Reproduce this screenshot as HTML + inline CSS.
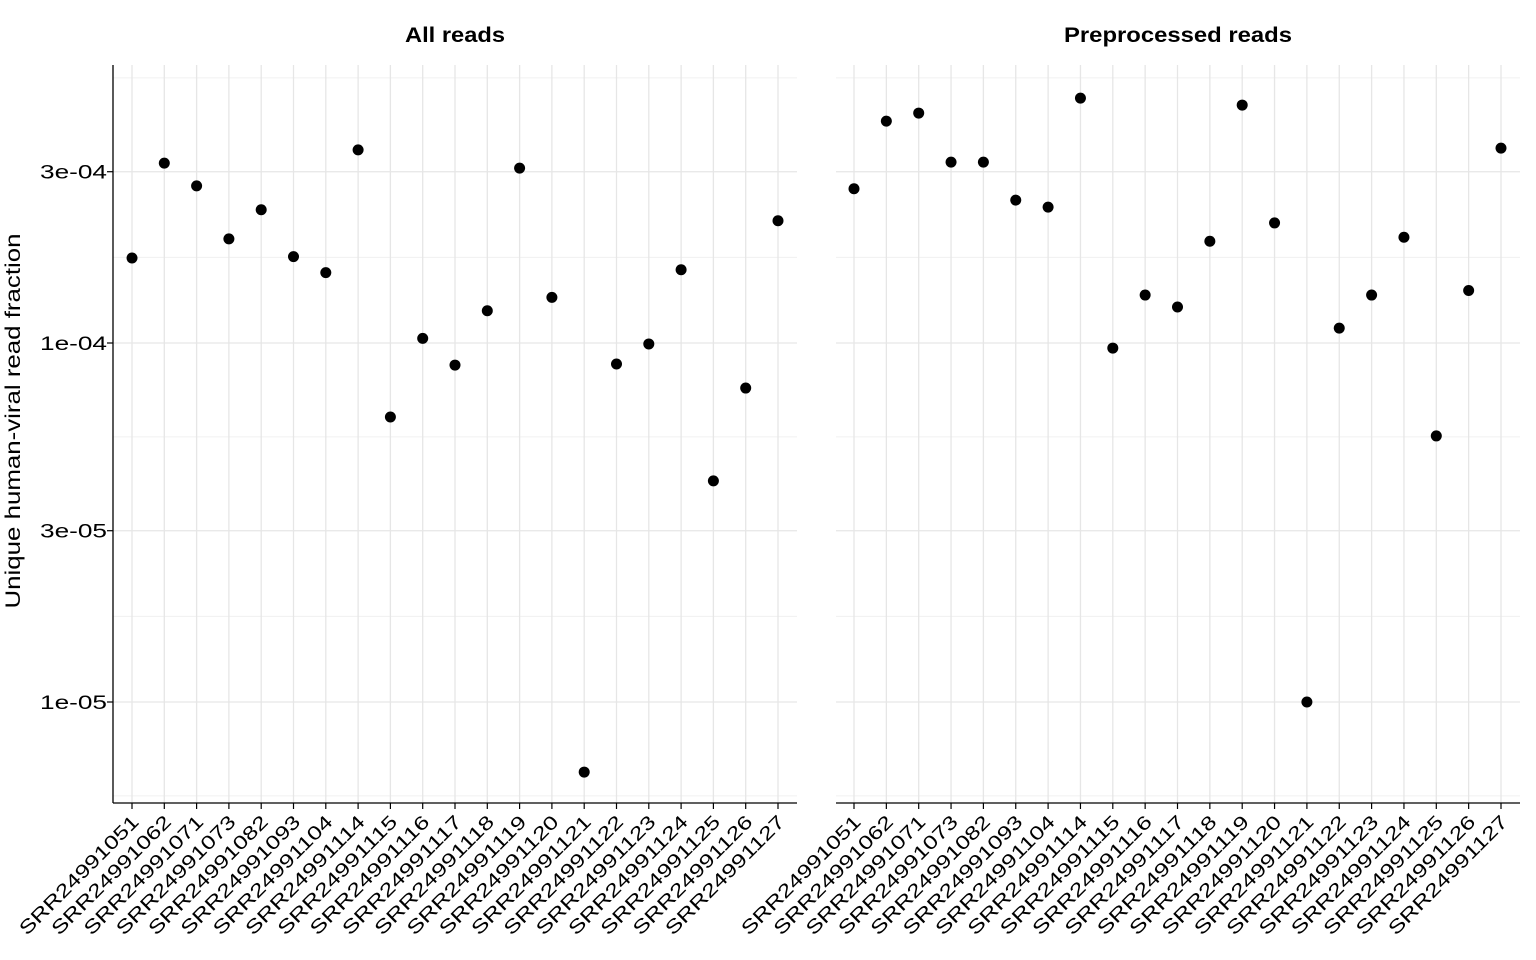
<!DOCTYPE html>
<html><head><meta charset="utf-8"><style>
html,body{margin:0;padding:0;background:#fff;}
svg{display:block;font-family:"Liberation Sans",Arial,sans-serif;}
</style></head><body>
<svg id="chart" width="1536" height="960" viewBox="0 0 1536 960"></svg>
<script>
const categories=["SRR24991051","SRR24991062","SRR24991071","SRR24991073","SRR24991082","SRR24991093","SRR24991104","SRR24991114","SRR24991115","SRR24991116","SRR24991117","SRR24991118","SRR24991119","SRR24991120","SRR24991121","SRR24991122","SRR24991123","SRR24991124","SRR24991125","SRR24991126","SRR24991127"];
const allReads=[1.725e-4,3.17e-4,2.74e-4,1.95e-4,2.35e-4,1.74e-4,1.57e-4,3.45e-4,6.22e-5,1.03e-4,8.68e-5,1.23e-4,3.07e-4,1.34e-4,6.38e-6,8.74e-5,9.94e-5,1.60e-4,4.13e-5,7.49e-5,2.19e-4];
const preReads=[2.69e-4,4.15e-4,4.37e-4,3.19e-4,3.19e-4,2.50e-4,2.39e-4,4.81e-4,9.68e-5,1.36e-4,1.26e-4,1.92e-4,4.60e-4,2.16e-4,1.00e-5,1.10e-4,1.36e-4,1.97e-4,5.51e-5,1.40e-4,3.49e-4];
const yTickValues=[1e-5,3e-5,1e-4,3e-4];
const yTickLabels=["1e-05","3e-05","1e-04","3e-04"];
const yMinorValues=[0.5477e-5,1.732e-5,5.477e-5,1.732e-4,5.477e-4];
const panelTitles=["All reads","Preprocessed reads"];

const NS="http://www.w3.org/2000/svg";
const svg=document.getElementById('chart');
function mk(tag,attrs,parent){const e=document.createElementNS(NS,tag);for(const k in attrs)e.setAttribute(k,attrs[k]);(parent||svg).appendChild(e);return e;}
const plotTop=65,plotBottom=803;
function yScale(v){return 343-359*Math.log10(v/1e-4);}
const panels=[{x0:113,x1:797,first:132,last:778,data:allReads,tw:100},{x0:836,x1:1520,first:854,last:1501,data:preReads,tw:228}];
panels.forEach((p,pi)=>{
  const g=mk('g',{});
  
  
  const step=(p.last-p.first)/(categories.length-1);
  const xs=i=>p.first+i*step;
  yMinorValues.forEach(v=>{const yy=yScale(v);if(yy<plotTop||yy>plotBottom)return;
    const l=mk('line',{x1:p.x0,x2:p.x1,y1:yy,y2:yy,stroke:'#f0f0f0','stroke-width':1},g);
    });
  yTickValues.forEach(v=>{const yy=yScale(v);
    const l=mk('line',{x1:p.x0,x2:p.x1,y1:yy,y2:yy,stroke:'#e6e6e6','stroke-width':1.3},g);
    });
  categories.forEach((c,i)=>{
    const l=mk('line',{x1:xs(i),x2:xs(i),y1:plotTop,y2:plotBottom,stroke:'#e6e6e6','stroke-width':1.3},g);
    
    const t=mk('line',{x1:xs(i),x2:xs(i),y1:plotBottom,y2:plotBottom+6,stroke:'#000','stroke-width':1.2},g);
    
    const ax0=xs(i)+8, ay0=plotBottom+20;
    const tx=mk('text',{x:ax0,y:ay0,'text-anchor':'end','font-size':19,textLength:160,lengthAdjust:'spacingAndGlyphs',fill:'#000',transform:`rotate(-45 ${ax0} ${ay0})`},g);
    tx.textContent=c;
    
  });
  const ax=mk('line',{x1:p.x0,x2:p.x1,y1:plotBottom,y2:plotBottom,stroke:'#000','stroke-width':1.3},g);
  
  if(pi===0){
    const ay=mk('line',{x1:p.x0,x2:p.x0,y1:plotTop,y2:plotBottom,stroke:'#000','stroke-width':1.3},g);
    
    yTickValues.forEach((v,k)=>{const yy=yScale(v);
      const t=mk('line',{x1:p.x0-6,x2:p.x0,y1:yy,y2:yy,stroke:'#000','stroke-width':1.2},g);
      
      const tx=mk('text',{x:107,y:yy+7,'text-anchor':'end','font-size':19,textLength:67,lengthAdjust:'spacingAndGlyphs',fill:'#000'},g);
      tx.textContent=yTickLabels[k];
      });
  }
  p.data.forEach((v,i)=>{
    const c=mk('circle',{cx:xs(i),cy:yScale(v),r:5.5,fill:'#000'},g);
    
  });
  const tt=mk('text',{x:(p.x0+p.x1)/2,y:42,'text-anchor':'middle','font-size':21,'font-weight':'bold',textLength:p.tw,lengthAdjust:'spacingAndGlyphs',fill:'#000'},g);
  tt.textContent=panelTitles[pi];
  
});
const yt=mk('text',{x:20,y:421,'text-anchor':'middle','font-size':21,textLength:375,lengthAdjust:'spacingAndGlyphs',fill:'#000',transform:'rotate(-90 20 421)'});
yt.textContent="Unique human-viral read fraction";


</script>
</body></html>
